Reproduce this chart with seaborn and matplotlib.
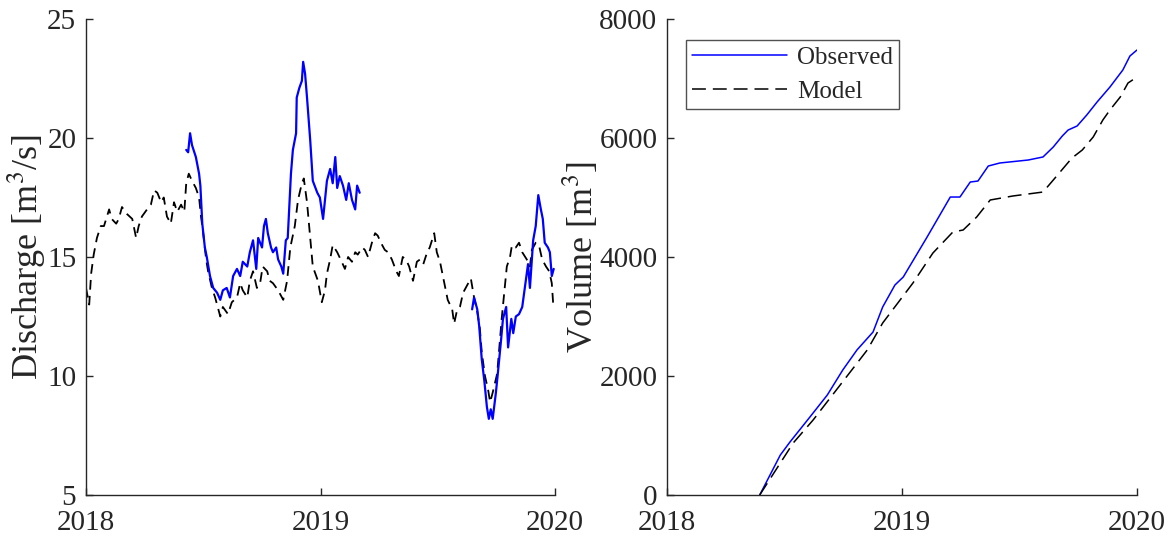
import numpy as np
import pandas as pd
import matplotlib
matplotlib.use("Agg")
import matplotlib.pyplot as plt
import seaborn as sns

# ---------------- data (days since 2018-01-01) ----------------
model_q_days = [0, 5, 8, 12, 17, 23, 28, 36, 40, 47, 51, 56, 64, 72, 78, 82, 87, 95, 101, 106,
                111, 117, 121, 126, 132, 137, 142, 148, 153, 156, 160, 165, 171, 176, 179, 182,
                187, 190, 196, 201, 209, 213, 221, 227, 235, 240, 244, 251, 255, 260, 266, 271,
                275, 282, 286, 291, 299, 307, 313, 318, 325, 330, 336, 339, 344, 349, 353, 361,
                367, 372, 375, 380, 384, 391, 398, 403, 408, 414, 419, 423, 430, 434, 439, 445,
                450, 454, 461, 465, 470, 476, 483, 487, 493, 498, 503, 509, 515, 520, 525, 531,
                535, 542, 546, 551, 557, 563, 570, 573, 577, 582, 587, 593, 599, 604, 609, 613,
                616, 621, 626, 629, 633, 640, 643, 647, 651, 655, 660, 663, 669, 674, 679, 686,
                691, 694, 700, 705, 710, 716, 721, 725, 727, 728]
model_q = [13.7, 13.0, 14.3, 15.1, 15.8, 16.3, 16.3, 17.0, 16.6, 16.4, 16.6, 17.1, 16.8, 16.6,
           15.8, 16.3, 16.7, 17.0, 17.2, 17.8, 17.7, 17.3, 17.5, 16.7, 16.4, 17.3, 16.9, 17.2,
           16.9, 18.1, 18.5, 18.2, 17.9, 17.5, 16.7, 16.1, 14.9, 14.4, 13.7, 13.3, 12.5, 12.9,
           12.6, 13.1, 13.3, 13.9, 13.6, 13.3, 14.0, 14.4, 13.7, 13.9, 14.6, 14.4, 14.0, 13.9,
           13.6, 13.2, 14.0, 15.4, 16.3, 17.4, 18.1, 18.3, 17.3, 15.8, 14.6, 14.0, 13.1, 13.6,
           14.3, 14.9, 15.5, 15.2, 14.8, 14.5, 15.0, 14.8, 15.2, 15.1, 15.4, 15.3, 15.0, 15.6,
           16.0, 15.9, 15.5, 15.3, 15.2, 14.9, 14.4, 14.2, 15.0, 14.9, 14.6, 14.0, 14.8, 14.9,
           14.7, 15.2, 15.4, 16.0, 15.2, 14.8, 14.0, 13.2, 12.8, 12.2, 12.7, 12.9, 13.5, 13.8,
           14.1, 13.3, 12.7, 12.0, 11.0, 10.0, 9.4, 8.9, 9.3, 10.1, 11.1, 12.4, 13.5, 14.6, 15.0,
           15.5, 15.4, 15.6, 15.2, 14.9, 14.6, 15.3, 15.6, 15.5, 14.9, 14.6, 14.4, 13.9, 13.1, 12.9]

obs_q1_days = [156, 159, 162, 165, 171, 176, 178, 181, 185, 188, 193, 198, 204, 209, 213, 219,
               224, 229, 235, 240, 244, 251, 255, 260, 265, 268, 274, 277, 280, 283, 288, 291,
               296, 299, 304, 307, 311, 314, 319, 322, 327, 328, 332, 336, 338, 341, 344, 349,
               353, 360, 364, 369, 375, 380, 384, 388, 391, 395, 400, 405, 409, 414, 419, 422, 426]
obs_q1 = [19.5, 19.4, 20.2, 19.7, 19.2, 18.5, 18.0, 16.4, 15.4, 15.0, 14.2, 13.7, 13.5, 13.2,
          13.6, 13.7, 13.3, 14.2, 14.5, 14.2, 14.8, 14.6, 15.2, 15.7, 14.5, 15.8, 15.4, 16.3,
          16.6, 16.0, 15.4, 15.2, 15.4, 14.9, 14.6, 14.3, 15.7, 15.8, 18.5, 19.5, 20.2, 21.7,
          22.1, 22.4, 23.2, 22.7, 21.7, 19.9, 18.2, 17.7, 17.5, 16.6, 18.2, 18.7, 18.1, 19.2,
          17.9, 18.4, 18.0, 17.4, 18.1, 17.4, 17.0, 18.0, 17.7]

obs_q2_days = [601, 604, 609, 612, 616, 620, 624, 627, 630, 633, 638, 641, 646, 649, 654, 657,
               662, 665, 669, 674, 679, 683, 688, 691, 696, 700, 704, 708, 711, 714, 719, 722,
               725, 728]
obs_q2 = [12.8, 13.3, 12.8, 12.1, 10.7, 9.8, 8.7, 8.2, 8.6, 8.2, 9.3, 10.1, 11.5, 12.4, 12.9,
          11.2, 12.4, 11.8, 12.5, 12.6, 12.9, 13.7, 14.7, 13.7, 15.7, 16.3, 17.6, 17.0, 16.6,
          15.6, 15.4, 15.2, 14.2, 14.5]

obs_v_days = [144, 176, 191, 222, 249, 273, 295, 320, 335, 354, 367, 404, 440, 455, 471, 483,
              499, 517, 561, 584, 600, 614, 623, 637, 652, 668, 688, 708, 719, 730]
obs_v = [0, 672, 891, 1311, 1681, 2101, 2437, 2739, 3160, 3529, 3664, 4336, 5008, 5008, 5260,
         5277, 5529, 5580, 5630, 5681, 5849, 6034, 6134, 6202, 6387, 6605, 6857, 7143, 7378, 7479]

model_v_days = [144, 196, 227, 269, 311, 335, 362, 382, 413, 444, 460, 481, 502, 537, 584, 600,
                629, 645, 662, 677, 688, 704, 716, 730]
model_v = [0, 874, 1261, 1849, 2437, 2891, 3277, 3563, 4067, 4420, 4454, 4672, 4958, 5025, 5092,
           5294, 5664, 5798, 6017, 6303, 6471, 6689, 6924, 7025]

year_ticks = ["2018", "2019", "2020"]
q_ticks = [5, 10, 15, 20, 25]
v_ticks = [0, 2000, 4000, 6000, 8000]

# ---------------- style ----------------
sns.set_style("ticks")
plt.rcParams["font.family"] = ["Liberation Serif", "DejaVu Serif"]
plt.rcParams["mathtext.fontset"] = "stix"
plt.rcParams["xtick.direction"] = "in"
plt.rcParams["ytick.direction"] = "in"
plt.rcParams["lines.scale_dashes"] = False

base = pd.Timestamp("2018-01-01")
def to_dates(days):
    return base + pd.to_timedelta(np.asarray(days), unit="D")

fig = plt.figure(figsize=(11.75, 5.37), dpi=100)
ax1 = fig.add_axes([86 / 1175, 42 / 537, 469 / 1175, 476 / 537])
ax2 = fig.add_axes([667 / 1175, 42 / 537, 470 / 1175, 476 / 537])

dash = (0, (7, 4.5))
sns.lineplot(x=to_dates(model_q_days), y=model_q, ax=ax1, color="black", lw=1.3,
             linestyle=dash, estimator=None, sort=False)
sns.lineplot(x=to_dates(obs_q1_days), y=obs_q1, ax=ax1, color="blue", lw=1.6,
             estimator=None, sort=False)
sns.lineplot(x=to_dates(obs_q2_days), y=obs_q2, ax=ax1, color="blue", lw=1.6,
             estimator=None, sort=False)

sns.lineplot(x=to_dates(obs_v_days), y=obs_v, ax=ax2, color="blue", lw=1.1,
             estimator=None, sort=False, label="Observed")
sns.lineplot(x=to_dates(model_v_days), y=model_v, ax=ax2, color="black", lw=1.1,
             linestyle=(0, (10, 5)), estimator=None, sort=False, label="Model")

tick_dates = [pd.Timestamp(f"{y}-01-01") for y in year_ticks]
gray = "#262626"
for ax in (ax1, ax2):
    ax.set_xlim(tick_dates[0], tick_dates[-1])
    ax.set_xticks(tick_dates)
    ax.set_xticklabels(year_ticks)
    ax.spines["top"].set_visible(False)
    ax.spines["right"].set_visible(False)
    for s in ("left", "bottom"):
        ax.spines[s].set_color(gray)
        ax.spines[s].set_linewidth(1.0)
    ax.tick_params(axis="both", labelsize=21, colors=gray, length=5, width=1.0)
    ax.tick_params(axis="x", pad=10.5)
    ax.tick_params(axis="y", pad=7)
    ax.set_xlabel("")

ax1.set_ylim(5, 25)
ax1.set_yticks(q_ticks)
ax1.set_ylabel("Discharge [m$^3$/s]", fontsize=26, color=gray, labelpad=-1)

ax2.set_ylim(0, 8000)
ax2.set_yticks(v_ticks)
ax2.set_ylabel("Volume [m$^3$]", fontsize=26, color=gray, labelpad=-1)

leg = ax2.legend(loc="upper left", bbox_to_anchor=(0.04, 0.955), fontsize=18, frameon=True,
                 fancybox=False, edgecolor=gray, handlelength=3.8, handletextpad=0.4,
                 borderpad=0.25, labelspacing=0.45, borderaxespad=0)
leg.get_frame().set_linewidth(1.0)

fig.savefig("out.png", dpi=100, facecolor="white")
